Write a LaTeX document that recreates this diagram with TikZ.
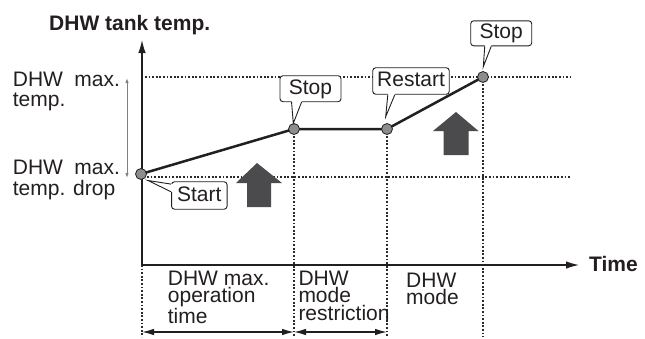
\documentclass[tikz,border=0pt]{standalone}
\usepackage{fontspec}
\setmainfont{Liberation Sans}
\usetikzlibrary{arrows.meta,calc}
\definecolor{ink}{HTML}{231F20}
\definecolor{dotc}{HTML}{2A2A2A}
\definecolor{bigarrow}{HTML}{4B4B4D}
\definecolor{ptfill}{HTML}{8C8D8F}
\definecolor{thingray}{HTML}{808080}
\newcommand{\mycallptr}[4]{%
  \fill[white] (#1) -- (#2) -- (#3) -- ([shift={(#4)}]#3) -- ([shift={(#4)}]#1) -- cycle;
  \draw[cline] (#1) -- (#2) -- (#3);}
\begin{document}
\begin{tikzpicture}[x=1pt,y=-1pt,
  axis/.style={line width=1.2pt, draw=ink, -{Latex[length=13pt,width=7.5pt]}},
  dotl/.style={draw=dotc, line width=1.1pt, dash pattern=on 1.8pt off 1.8pt},
  mainl/.style={draw=ink, line width=2.5pt, line join=round},
  pt/.style={circle, draw=ink, fill=ptfill, minimum size=11pt, inner sep=0pt, line width=0.8pt},
  dim/.style={draw=ink, line width=1.2pt, {Latex[length=12pt,width=6.5pt]}-{Latex[length=12pt,width=6.5pt]}},
  thin/.style={draw=thingray, line width=0.9pt, {Latex[length=5pt,width=3.5pt]}-{Latex[length=5pt,width=3.5pt]}},
  cline/.style={draw=ink, line width=0.9pt, line join=miter},
  callout/.style={draw=ink, fill=white, rounded corners=3pt, line width=0.9pt, inner sep=0pt,
    font=\fontsize{21}{21}\selectfont, text=ink, text height=15pt, text depth=4pt},
  lbl/.style={font=\fontsize{21}{17.5}\selectfont, text=ink, inner sep=0pt, align=left, anchor=north west},
  side/.style={font=\fontsize{21}{20.5}\selectfont, text=ink, inner sep=0pt, align=left, anchor=north west},
  ttl/.style={font=\bfseries\fontsize{21}{21}\selectfont, text=ink, inner sep=0pt, anchor=base west},
  big/.style={fill=bigarrow}
]
\useasboundingbox (0,0) rectangle (645,338);

% coordinates
\coordinate (O) at (142,265);
\coordinate (Ytip) at (142,40);
\coordinate (Xtip) at (579,265);
\coordinate (c1) at (141,174);
\coordinate (c2) at (294,129);
\coordinate (c3) at (387,129);
\coordinate (c4) at (483,77);
\coordinate (maxL) at (145,77);
\coordinate (maxR) at (570,77);
\coordinate (dropL) at (147,177);
\coordinate (dropR) at (570,177);
\coordinate (b0) at (142,337);
\coordinate (b2) at (294,337);
\coordinate (b3) at (387,337);
\coordinate (b4) at (483,337);
\coordinate (d0) at (142,332);
\coordinate (d1) at (294,332);
\coordinate (d2) at (387,332);
\coordinate (g1) at (127,78);
\coordinate (g2) at (127,178);

% dotted guides
\draw[dotl] (maxL) -- (maxR);
\draw[dotl] (dropL) -- (dropR);
\draw[dotl] (O) -- (b0);
\draw[dotl] (c2) -- (b2);
\draw[dotl] (c3) -- (b3);
\draw[dotl] (c4) -- (b4);

% axes
\draw[axis] (O) -- (Ytip);
\draw[axis] (O) -- (Xtip);

% temperature curve
\draw[mainl] (c1) -- (c2) -- (c3) -- (c4);
\node[pt] (p1) at (c1) {};
\node[pt] (p2) at (c2) {};
\node[pt] (p3) at (c3) {};
\node[pt] (p4) at (c4) {};

% thin range arrow
\draw[thin] (g1) -- (g2);

% big arrows
\fill[big] (257,163) -- (282,183) -- (271,183) -- (271,207) -- (247,207) -- (247,183) -- (236,183) -- cycle;
\fill[big] (456,112) -- (478.5,131) -- (468.5,131) -- (468.5,155) -- (443.5,155) -- (443.5,131) -- (433,131) -- cycle;

% dimension arrows
\draw[dim] (d0) -- (d1);
\draw[dim] (d1) -- (d2);

% callouts
\node[callout, minimum width=55.5pt, minimum height=27.5pt] (start) at (199.3,195.5) {Start};
\coordinate (ts) at (148,180.5);
\mycallptr{$(start.north west)+(0,2.8)$}{ts}{$(start.north west)+(0,10.5)$}{2.5,0}

\node[callout, minimum width=61pt, minimum height=26pt] (stop1) at (310.5,88.7) {Stop};
\coordinate (t2) at (293.3,123.3);
\mycallptr{$(stop1.south west)+(12,0)$}{t2}{$(stop1.south west)+(22,0)$}{0,-2.5}

\node[callout, minimum width=76.5pt, minimum height=26.5pt] (restart) at (411,81) {Restart};
\coordinate (t3) at (385.7,116.7);
\mycallptr{$(restart.south west)+(15.5,0)$}{t3}{$(restart.south west)+(22.5,0)$}{0,-2.5}

\node[callout, minimum width=61pt, minimum height=25pt] (stop2) at (501.2,33.3) {Stop};
\coordinate (t4) at (483.3,66.7);
\mycallptr{$(stop2.south west)+(14.5,0)$}{t4}{$(stop2.south west)+(21,0)$}{0,-2.5}

% texts
\node[ttl] (title) at (49,30.7) {DHW tank temp.};
\node[ttl] (time) at (589,271.7) {Time};
\node[side] (lmax) at (12.7,71.7) {DHW\hspace{11.3pt}max.\\temp.};
\node[side] (ldrop) at (12.7,160) {DHW\hspace{11.3pt}max.\\temp. drop};
\node[lbl] (op) at (167.7,270.7) {DHW max.\\operation\\time};
\node[lbl] (res) at (298.3,270.7) {DHW\\mode\\restriction};
\node[lbl] (mode) at (406,272.7) {DHW\\mode};
\end{tikzpicture}
\end{document}
